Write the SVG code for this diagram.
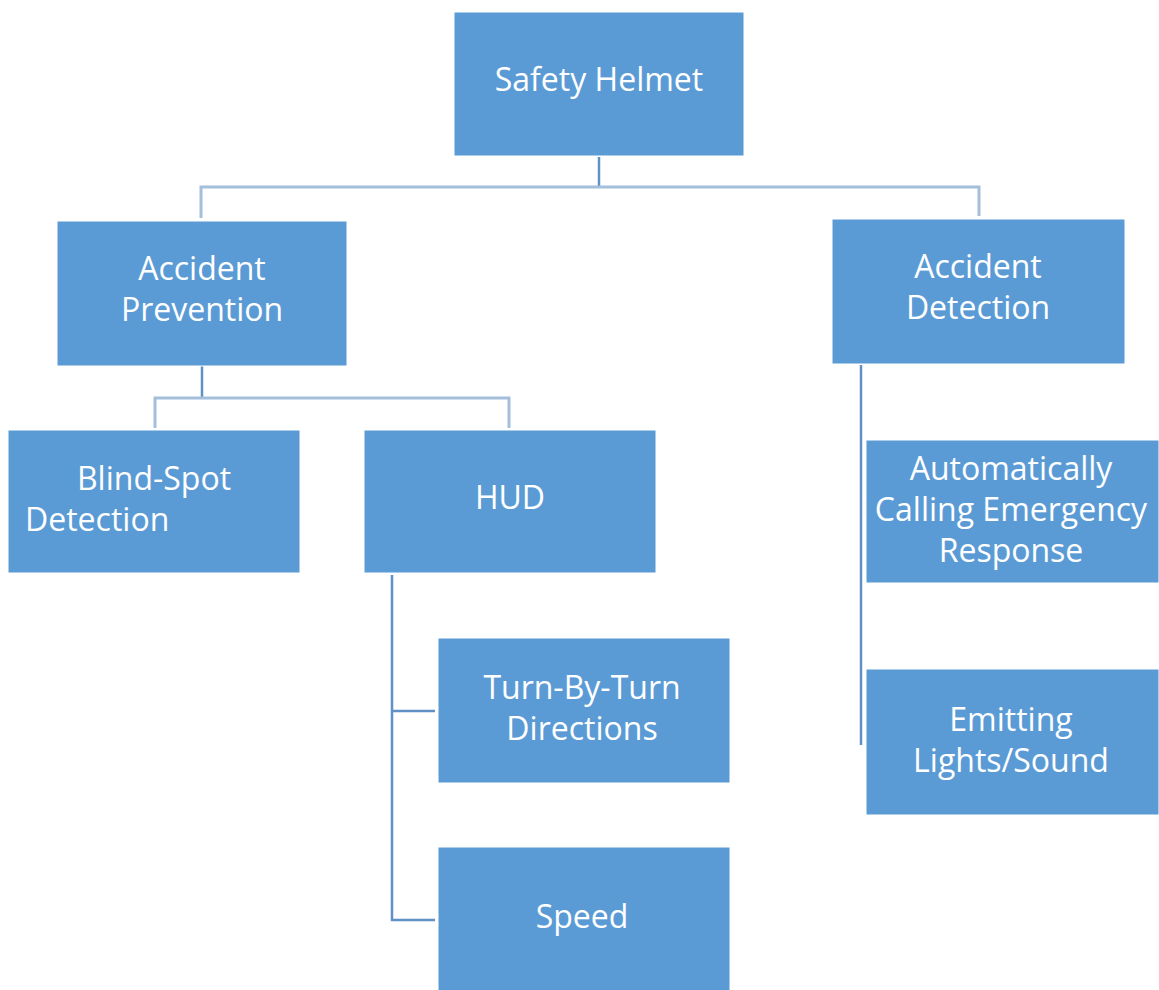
<svg xmlns="http://www.w3.org/2000/svg" width="1159" height="990" viewBox="0 0 1159 990">
<style>
.box{fill:#5b9bd5;stroke:#ffffff;stroke-width:1}
.t{fill:#ffffff;font-family:"Open Sans","Liberation Sans",sans-serif;font-size:32px;text-anchor:middle}
.h{stroke:#a3bfdc;stroke-width:3;fill:none}
.v{stroke:#5f90c6;stroke-width:2.5;fill:none}
</style>
<rect width="1159" height="990" fill="#ffffff"/>
<g id="connectors">
<line class="v" x1="599" y1="157" x2="599" y2="188"/>
<polyline class="h" points="201,218 201,187 979,187 979,216"/>
<line class="v" x1="202" y1="366" x2="202" y2="398"/>
<polyline class="h" points="155,428 155,398 509,398 509,428"/>
<polyline class="v" points="392,575 392,920 435,920"/>
<line class="v" x1="392" y1="711" x2="435" y2="711"/>
<line class="v" x1="861" y1="365" x2="861" y2="745"/>
</g>
<g id="safety-helmet"><rect class="box" x="454" y="12" width="290" height="144"/><text class="t" x="599" y="91">Safety Helmet</text></g>
<g id="accident-prevention"><rect class="box" x="57" y="221" width="290" height="145"/><text class="t" x="202" y="280">Accident</text><text class="t" x="202" y="321">Prevention</text></g>
<g id="accident-detection"><rect class="box" x="832" y="219" width="293" height="145"/><text class="t" x="978" y="278">Accident</text><text class="t" x="978" y="319">Detection</text></g>
<g id="blind-spot"><rect class="box" x="8" y="430" width="292" height="143"/><text class="t" x="154" y="490">Blind-Spot</text><text class="t" x="25" y="531" style="text-anchor:start">Detection</text></g>
<g id="hud"><rect class="box" x="364" y="430" width="292" height="143"/><text class="t" x="510" y="509">HUD</text></g>
<g id="turn-by-turn"><rect class="box" x="438" y="638" width="292" height="145"/><text class="t" x="582" y="699">Turn-By-Turn</text><text class="t" x="582" y="740">Directions</text></g>
<g id="speed"><rect class="box" x="438" y="847" width="292" height="150"/><text class="t" x="582" y="928">Speed</text></g>
<g id="auto-call"><rect class="box" x="866" y="440" width="293" height="143"/><text class="t" x="1011" y="480">Automatically</text><text class="t" x="1011" y="521">Calling Emergency</text><text class="t" x="1011" y="562">Response</text></g>
<g id="emitting"><rect class="box" x="866" y="669" width="293" height="146"/><text class="t" x="1011" y="731">Emitting</text><text class="t" x="1011" y="772">Lights/Sound</text></g>
</svg>
